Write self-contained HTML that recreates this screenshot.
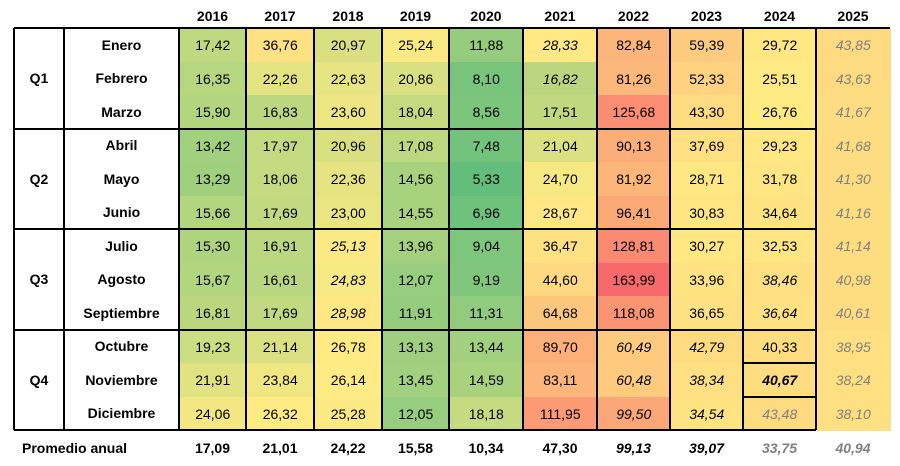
<!DOCTYPE html>
<html><head><meta charset="utf-8"><style>
body{margin:0;background:#fff;}
#c{position:relative;width:900px;height:466px;overflow:hidden;font-family:"Liberation Sans",sans-serif;}
.cell{position:absolute;display:flex;align-items:center;justify-content:center;font-size:14px;color:#000;box-sizing:border-box;}
.hd{font-weight:bold;}
.ln{position:absolute;background:#000;}
</style></head><body>
<div id="c"></div>
<script>
const years=["2016","2017","2018","2019","2020","2021","2022","2023","2024","2025"];
const months=["Enero","Febrero","Marzo","Abril","Mayo","Junio","Julio","Agosto","Septiembre","Octubre","Noviembre","Diciembre"];
const quarters=["Q1","Q2","Q3","Q4"];
const v2016=[17.42,16.35,15.90,13.42,13.29,15.66,15.30,15.67,16.81,19.23,21.91,24.06];
const v2017=[36.76,22.26,16.83,17.97,18.06,17.69,16.91,16.61,17.69,21.14,23.84,26.32];
const v2018=[20.97,22.63,23.60,20.96,22.36,23.00,25.13,24.83,28.98,26.78,26.14,25.28];
const v2019=[25.24,20.86,18.04,17.08,14.56,14.55,13.96,12.07,11.91,13.13,13.45,12.05];
const v2020=[11.88,8.10,8.56,7.48,5.33,6.96,9.04,9.19,11.31,13.44,14.59,18.18];
const v2021=[28.33,16.82,17.51,21.04,24.70,28.67,36.47,44.60,64.68,89.70,83.11,111.95];
const v2022=[82.84,81.26,125.68,90.13,81.92,96.41,128.81,163.99,118.08,60.49,60.48,99.50];
const v2023=[59.39,52.33,43.30,37.69,28.71,30.83,30.27,33.96,36.65,42.79,38.34,34.54];
const v2024=[29.72,25.51,26.76,29.23,31.78,34.64,32.53,38.46,36.64,40.33,40.67,43.48];
const v2025=[43.85,43.63,41.67,41.68,41.30,41.16,41.14,40.98,40.61,38.95,38.24,38.10];
const averages=[17.09,21.01,24.22,15.58,10.34,47.30,99.13,39.07,33.75,40.94];
const series=[v2016,v2017,v2018,v2019,v2020,v2021,v2022,v2023,v2024,v2025];
const xs=[179,246,314,382,449,523,597,670,743,816,890];
const top0=28,rowH=33.5;
const italicCells={"5-0":1,"5-1":1,"2-6":1,"2-7":1,"2-8":1,"6-9":1,"6-10":1,"6-11":1,"7-9":1,"7-10":1,"7-11":1,"8-7":1,"8-8":1,"8-10":1};
const c=document.getElementById('c');
function fmt(n){return n.toFixed(2).replace('.',',');}
function rowY(i){return top0+i*rowH;}
const all=[].concat(...series).slice().sort((a,b)=>a-b);
const mn=all[0],mx=all[all.length-1];
const med=(all[59]+all[60])/2;
function lerp(a,b,t){return a.map((x,i)=>Math.round(x+(b[i]-x)*t));}
function color(v){const g=[99,190,123],y=[255,235,132],r=[248,105,107];
 let col=v<=med?lerp(g,y,(v-mn)/(med-mn)):lerp(y,r,(v-med)/(mx-med));
 return `rgb(${col.join(',')})`;}
function mk(cls,x,y,w,h,txt){const d=document.createElement('div');d.className=cls;
 d.style.left=x+'px';d.style.top=y+'px';d.style.width=w+'px';d.style.height=h+'px';if(txt!==undefined)d.textContent=txt;c.appendChild(d);return d;}
years.forEach((yr,j)=>{
 const h=mk('cell hd',xs[j],4,xs[j+1]-xs[j],24,yr);
 
 
 series[j].forEach((v,i)=>{
  const d=mk('cell',xs[j],rowY(i),xs[j+1]-xs[j]+0.5,rowH+0.5,fmt(v));
  d.style.background=color(v);
  if(j==9||(j==8&&i==11)){d.style.color='#808080';d.style.fontStyle='italic';}
  if(italicCells[j+'-'+i])d.style.fontStyle='italic';
  if(j==8&&i==10){d.style.fontWeight='bold';}
  
  
 });
 const a=mk('cell hd',xs[j],436,xs[j+1]-xs[j],24,fmt(averages[j]));
 if(j>=6)a.style.fontStyle='italic';
 if(j>=8)a.style.color='#808080';
 
 
});
months.forEach((m,i)=>{
 const d=mk('cell hd',64,rowY(i),115,rowH,m);
 
 
});
quarters.forEach((q,k)=>{
 const d=mk('cell hd',14,rowY(k*3),50,rowH*3,q);
 
 
});
const p=mk('cell hd',14,436,140,24,'Promedio anual');
p.style.justifyContent='flex-start';p.style.paddingLeft='8px';


// grid lines
mk('ln',14,27,876,2);
[3,6,9,12].forEach(i=>mk('ln',14,rowY(i)-1,802,2));
[14,64,179,246,314,382,449,523,597,670,743,816].forEach(x=>mk('ln',x-1,28,2,402));
[10,11].forEach(i=>mk('ln',743,rowY(i)-1,73,2));
</script>
</body></html>
